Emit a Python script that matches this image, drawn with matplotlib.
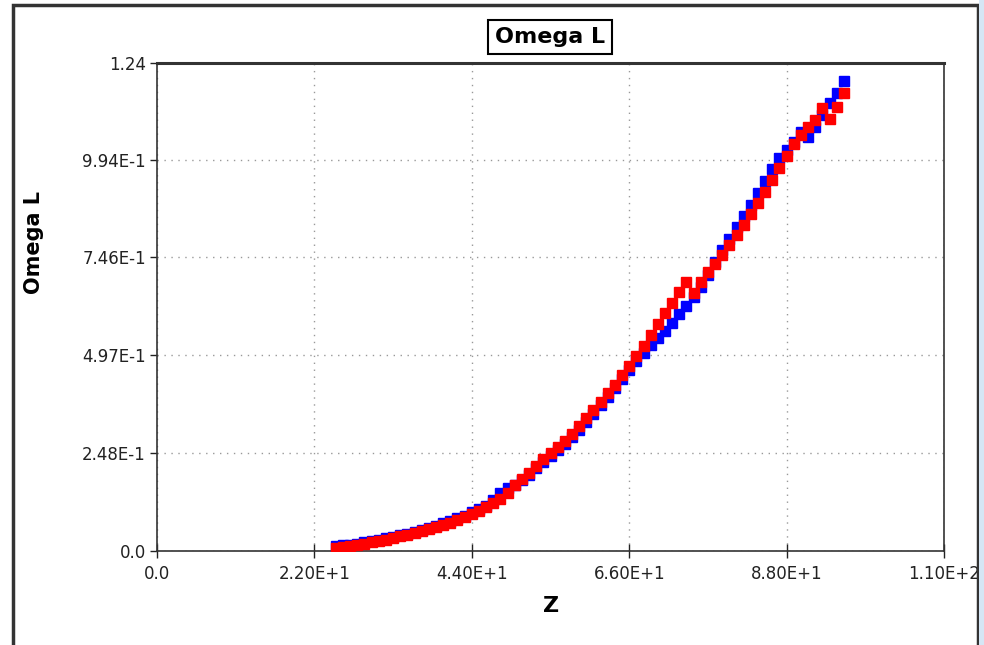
import matplotlib.pyplot as plt
from matplotlib.patches import Rectangle

# data
z = [25, 26, 27, 28, 29, 30, 31, 32, 33, 34, 35, 36, 37, 38, 39, 40, 41, 42,
     43, 44, 45, 46, 47, 48, 49, 50, 51, 52, 53, 54, 55, 56, 57, 58, 59, 60,
     61, 62, 63, 64, 65, 66, 67, 68, 69, 70, 71, 72, 73, 74, 75, 76, 77, 78,
     79, 80, 81, 82, 83, 84, 85, 86, 87, 88, 89, 90, 91, 92, 93, 94, 95, 96]

omega_blue = [0.012, 0.014, 0.016, 0.019, 0.022, 0.026, 0.029, 0.032, 0.036, 0.040,
              0.044, 0.049, 0.054, 0.059, 0.064, 0.070, 0.076, 0.083, 0.090, 0.098,
              0.106, 0.115, 0.130, 0.147, 0.160, 0.168, 0.180, 0.194, 0.210, 0.226,
              0.241, 0.256, 0.272, 0.290, 0.308, 0.328, 0.349, 0.370, 0.392, 0.414,
              0.437, 0.460, 0.482, 0.502, 0.523, 0.540, 0.558, 0.579, 0.602, 0.623,
              0.645, 0.671, 0.701, 0.734, 0.765, 0.793, 0.823, 0.852, 0.880, 0.910,
              0.940, 0.970, 0.999, 1.020, 1.040, 1.065, 1.052, 1.078, 1.108, 1.138,
              1.163, 1.193]

omega_red = [0.008, 0.010, 0.013, 0.016, 0.019, 0.022, 0.025, 0.029, 0.033, 0.037,
             0.041, 0.045, 0.050, 0.055, 0.060, 0.066, 0.072, 0.079, 0.086, 0.094,
             0.102, 0.111, 0.121, 0.133, 0.148, 0.168, 0.183, 0.198, 0.215, 0.233,
             0.248, 0.264, 0.280, 0.298, 0.317, 0.337, 0.358, 0.379, 0.401, 0.423,
             0.447, 0.470, 0.495, 0.522, 0.549, 0.578, 0.605, 0.630, 0.658, 0.684,
             0.656, 0.684, 0.710, 0.730, 0.752, 0.777, 0.803, 0.828, 0.856, 0.884,
             0.913, 0.943, 0.974, 1.004, 1.034, 1.057, 1.078, 1.095, 1.126, 1.098,
             1.128, 1.163]

xticks = [0, 22, 44, 66, 88, 110]
xtick_labels = ["0.0", "2.20E+1", "4.40E+1", "6.60E+1", "8.80E+1", "1.10E+2"]
yticks = [0, 0.248, 0.497, 0.746, 0.994, 1.24]
ytick_labels = ["0.0", "2.48E-1", "4.97E-1", "7.46E-1", "9.94E-1", "1.24"]

fig = plt.figure(figsize=(9.84, 6.45), dpi=100)
ax = fig.add_axes([157/984, 1 - 551/645, (944 - 157)/984, (551 - 63)/645])

ax.plot(z, omega_blue, 's', color='#0000ff', ms=6.6, mec='#0000ff', zorder=3)
ax.plot(z, omega_red, 's', color='#ff0000', ms=6.6, mec='#ff0000', zorder=4)

ax.set_xlim(0, 110)
ax.set_ylim(0, 1.24)
ax.set_xticks(xticks)
ax.set_xticklabels(xtick_labels)
ax.set_yticks(yticks)
ax.set_yticklabels(ytick_labels)
ax.tick_params(axis='x', direction='inout', length=10, width=1, labelsize=12, pad=5, colors='#222222')
ax.tick_params(axis='y', direction='out', length=5, width=1, labelsize=12, pad=3, colors='#222222')
ax.grid(True, color='#999999', linestyle=(0, (1, 4)), linewidth=1)

for s in ax.spines.values():
    s.set_color('#333333')
    s.set_linewidth(1.2)
ax.spines['top'].set_linewidth(2.2)

fig.text(550/984, 1 - 37/645, "Omega L", ha='center', va='center', fontsize=16,
         fontweight='bold',
         bbox=dict(boxstyle='square,pad=0.3', fc='white', ec='black', lw=1.5))
fig.text(34/984, 1 - 242/645, "Omega L", ha='center', va='center', rotation=90,
         fontsize=15, fontweight='bold')
fig.text(551/984, 1 - 606/645, "Z", ha='center', va='center', fontsize=16,
         fontweight='bold')

# outer frame like the window border
fig.add_artist(Rectangle((13/984, -0.05), (978 - 13)/984, 1 - 5/645 + 0.05,
                         transform=fig.transFigure, fill=False, ec='#333333', lw=2.5, zorder=5))
fig.add_artist(Rectangle((979/984, 0), 5/984, 1, transform=fig.transFigure,
                         fc='#d6e6f5', ec='none', zorder=6))

fig.savefig('out.png', dpi=100)
